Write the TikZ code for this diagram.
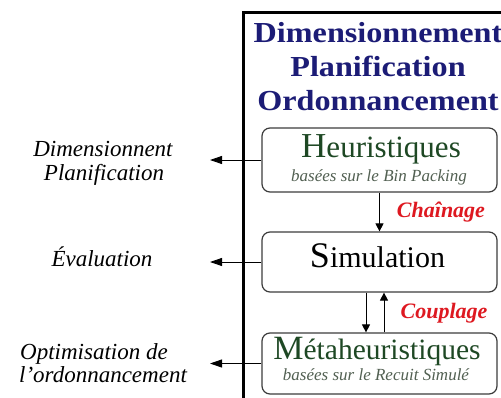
\documentclass[tikz,border=0pt]{standalone}
\usepackage{fontspec}
\setmainfont{Liberation Serif}
\newfontfamily\titlefont[FakeStretch=1.11]{Liberation Serif}
\usetikzlibrary{arrows.meta}
\definecolor{navy}{RGB}{28,28,118}
\definecolor{dkgreen}{RGB}{30,72,36}
\definecolor{subgreen}{RGB}{82,96,82}
\definecolor{boxgray}{RGB}{60,60,60}
\definecolor{redlbl}{RGB}{222,24,32}
\tikzset{
  boxnode/.style={draw=boxgray, line width=1.2pt, rounded corners=8pt, minimum width=235pt, inner sep=0pt},
  txt/.style={anchor=base, inner sep=0pt},
  titletxt/.style={txt, text=navy, font=\titlefont\bfseries\fontsize{29}{29}\selectfont},
  lefttxt/.style={txt, font=\itshape\fontsize{23}{23}\selectfont},
  subtxt/.style={txt, text=subgreen, font=\itshape\fontsize{17}{17}\selectfont},
  linklbl/.style={txt, text=redlbl, font=\bfseries\itshape\fontsize{22}{22}\selectfont},
  vconn/.style={line width=0.9pt, -{Triangle[length=8pt,width=8pt]}},
  hconn/.style={line width=0.9pt, -{Triangle[length=12pt,width=8pt]}}
}
\begin{document}
\begin{tikzpicture}[x=1pt,y=-1pt]
\useasboundingbox (0,0) rectangle (501,397);
\fill[white] (0,0) rectangle (501,397);
\clip (0,0) rectangle (501,397);
% frame
\draw[line width=3pt] (243,12) rectangle (540,440);
% title
\node[titletxt] (t1) at (378,42) {Dimensionnement};
\node[titletxt] (t2) at (378,76) {Planification};
\node[titletxt] (t3) at (378,110) {Ordonnancement};
% boxes
\node[boxnode, minimum height=64pt] (heur) at (379.5,160) {};
\node[boxnode, minimum height=60pt] (sim) at (379.5,262) {};
\node[boxnode, minimum height=61pt] (meta) at (379.5,363.5) {};
% box texts
\node[txt, text=dkgreen] (heurtxt) at (381,157) {{\fontsize{35}{35}\selectfont H}{\fontsize{31}{31}\selectfont euristiques}};
\node[subtxt] (heursub) at (379,181) {basées sur le Bin Packing};
\node[txt] (simtxt) at (377.5,267) {{\fontsize{36}{36}\selectfont S}{\fontsize{30}{30}\selectfont imulation}};
\node[txt, text=dkgreen] (metatxt) at (377,359.5) {{\fontsize{34}{34}\selectfont M}{\fontsize{29.5}{29.5}\selectfont étaheuristiques}};
\node[subtxt] (metasub) at (376,380) {basées sur le Recuit Simulé};
% vertical connectors
\draw[vconn] (heur.south) -- (sim.north);
\draw[vconn] ([xshift=-13.5pt]sim.south) -- ([xshift=-13.5pt]meta.north);
\draw[vconn] ([xshift=4.5pt]meta.north) -- ([xshift=4.5pt]sim.south);
\node[linklbl] (chain) at (441,217) {Chaînage};
\node[linklbl] (coup) at (444,318) {Couplage};
% left connectors
\coordinate (a1) at (210,160);
\coordinate (a2) at (210,262);
\coordinate (a3) at (210,363.5);
\draw[hconn] (heur.west) -- (a1);
\draw[hconn] (sim.west) -- (a2);
\draw[hconn] (meta.west) -- (a3);
% left labels
\node[lefttxt] (l1a) at (103,156) {Dimensionnent};
\node[lefttxt] (l1b) at (104,180.5) {Planification};
\node[lefttxt] (l2) at (102,266) {Évaluation};
\node[lefttxt] (l3a) at (94,359.5) {Optimisation de};
\node[lefttxt] (l3b) at (103,382.5) {l’ordonnancement};
\end{tikzpicture}
\end{document}
